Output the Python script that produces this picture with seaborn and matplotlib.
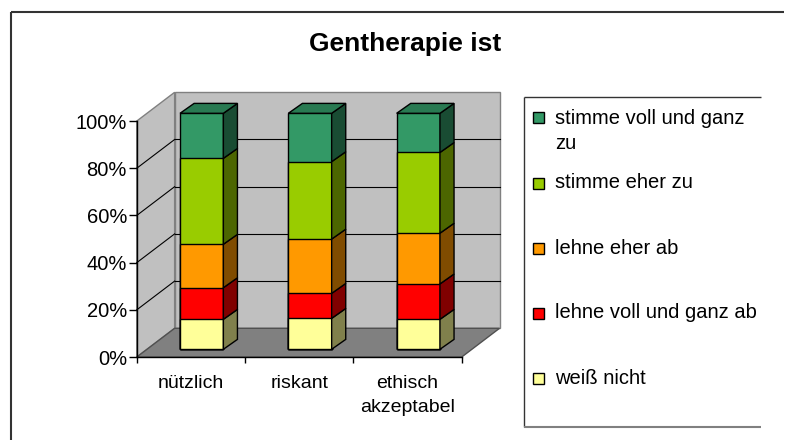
import matplotlib
matplotlib.use("Agg")
import matplotlib.pyplot as plt
import seaborn as sns
from matplotlib.patches import Polygon, Rectangle
from matplotlib.lines import Line2D

# data (percent, bottom -> top)
categories = ["nützlich", "riskant", "ethisch\nakzeptabel"]
series_names = ["weiß nicht", "lehne voll und ganz ab", "lehne eher ab",
                "stimme eher zu", "stimme voll und ganz zu"]
weiss_nicht = [12.7, 13.1, 12.7]
lehne_voll_ab = [13.4, 10.6, 15.0]
lehne_eher_ab = [18.4, 23.0, 21.5]
stimme_eher_zu = [36.4, 32.8, 34.2]
stimme_voll_zu = [19.1, 20.5, 16.6]
y_ticks = [0, 20, 40, 60, 80, 100]

front_colors = ["#FFFF99", "#FF0000", "#FF9900", "#99CC00", "#339966"]
side_colors = ["#80804C", "#800000", "#804C00", "#4C6600", "#194C33"]
top_color = "#297A52"

plt.rcParams['font.family'] = ['Liberation Sans', 'DejaVu Sans']

series = [weiss_nicht, lehne_voll_ab, lehne_eher_ab, stimme_eher_zu, stimme_voll_zu]
cum = []
run = [0.0] * len(categories)
for s in series:
    run = [a + b for a, b in zip(run, s)]
    cum.append(run)

W, H = 785, 441
fig = plt.figure(figsize=(W / 100, H / 100), dpi=100)

# pixel mapping of the bar front plane
PX0, PXU, PY0, PYU = 201.7, 108.3, 349.3, 2.36
ax = fig.add_axes([100 / W, (H - 370) / H, 420 / W, 290 / H])
ax.set_facecolor("none")

# 3d offsets (data units): front axis plane, back wall, bar depth
OFX, OFY = -0.10, -3.3
OBX, OBY = 0.25, 8.9
DBX, DBY = 0.13, 4.2
BW = 0.4

fx0, fx1 = -0.5 + OFX, 2.5 + OFX
bx0, bx1 = -0.5 + OBX, 2.5 + OBX

# walls and floor
ax.add_patch(Polygon([(bx0, OBY), (bx1, OBY), (bx1, 100 + OBY), (bx0, 100 + OBY)],
                     facecolor="#C0C0C0", edgecolor="#808080", lw=1, zorder=0.5))
ax.add_patch(Polygon([(fx0, OFY), (bx0, OBY), (bx0, 100 + OBY), (fx0, 100 + OFY)],
                     facecolor="#C0C0C0", edgecolor="#808080", lw=1, zorder=0.5))
ax.add_patch(Polygon([(fx0, OFY), (fx1, OFY), (bx1, OBY), (bx0, OBY)],
                     facecolor="#808080", edgecolor="#505050", lw=1, zorder=0.55))
for v in y_ticks[1:-1]:
    ax.plot([bx0, bx1], [OBY + v, OBY + v], color="black", lw=0.8, zorder=0.6)
    ax.plot([fx0, bx0], [OFY + v, OBY + v], color="black", lw=0.8, zorder=0.6)

# stacked bars: cumulative totals, tallest first
for i in reversed(range(len(series))):
    sns.barplot(x=categories, y=cum[i], color=front_colors[i], width=BW,
                saturation=1, edgecolor="black", linewidth=1, errorbar=None,
                ax=ax, zorder=1)

# side and top faces
for j in range(len(categories)):
    xr = j + BW / 2
    xl = j - BW / 2
    for i in range(len(series)):
        b = cum[i - 1][j] if i > 0 else 0
        t = cum[i][j]
        ax.add_patch(Polygon([(xr, b), (xr + DBX, b + DBY), (xr + DBX, t + DBY), (xr, t)],
                             facecolor=side_colors[i], edgecolor="black", lw=1, zorder=1.1))
    t = cum[-1][j]
    ax.add_patch(Polygon([(xl, t), (xl + DBX, t + DBY), (xr + DBX, t + DBY), (xr, t)],
                         facecolor=top_color, edgecolor="black", lw=1, zorder=1.1))

ax.set_xlim((100 - PX0) / PXU, (520 - PX0) / PXU)
ax.set_ylim((PY0 - 370) / PYU, (PY0 - 80) / PYU)

for s in ["top", "right"]:
    ax.spines[s].set_visible(False)
ax.spines["left"].set_position(("data", fx0))
ax.spines["left"].set_bounds(OFY, 100 + OFY)
ax.spines["bottom"].set_position(("data", OFY))
ax.spines["bottom"].set_bounds(fx0, fx1)
for s in ["left", "bottom"]:
    ax.spines[s].set_linewidth(1)
    ax.spines[s].set_zorder(2)

ax.set_yticks([v + OFY for v in y_ticks], labels=[f"{v}%" for v in y_ticks])
ax.set_xticks([fx0 + k for k in range(4)], labels=[""] * 4)
ax.set_xticks([j + OFX for j in range(len(categories))], labels=categories, minor=True)
ax.tick_params(axis="y", length=5.5, width=1, pad=1.5, labelsize=14.5)
ax.tick_params(axis="x", which="major", length=4.3, width=1)
ax.tick_params(axis="x", which="minor", length=0, pad=13, labelsize=14)
for lab in ax.get_xticklabels(minor=True):
    lab.set_linespacing(1.5)
ax.set_xlabel("")
ax.set_ylabel("")

# title
fig.text(405 / W, 1 - 44 / H, "Gentherapie ist", ha="center", va="center",
         fontsize=19, fontweight="bold")

# chart border
fig.add_artist(Line2D([11 / W, (W - 1) / W], [1 - 12 / H] * 2, color="#333333",
                      lw=1.5, solid_capstyle="butt"))
fig.add_artist(Line2D([11 / W] * 2, [1 / H, 1 - 12 / H], color="#333333", lw=1.5,
                      solid_capstyle="butt"))

# legend box (right edge lies outside the picture)
lx0, lx1, ly0, ly1 = 524 / W, 0.97, 1 - 97 / H, 1 - 427 / H
fig.add_artist(Line2D([lx0, lx1], [ly0, ly0], color="#333333", lw=1,
                      solid_capstyle="butt"))
fig.add_artist(Line2D([lx0, lx0], [ly0, ly1], color="#333333", lw=1,
                      solid_capstyle="butt"))
fig.add_artist(Line2D([lx0, lx1], [ly1, ly1], color="#808080", lw=1.5,
                      solid_capstyle="butt"))

legend_labels = ["stimme voll und ganz\nzu", "stimme eher zu", "lehne eher ab",
                 "lehne voll und ganz ab", "weiß nicht"]
legend_y = [117, 183, 248.5, 313, 378.5]
for k, (lab, yc) in enumerate(zip(legend_labels, legend_y)):
    col = front_colors[len(series) - 1 - k]
    fig.add_artist(Rectangle((533 / W, 1 - (yc + 5.5) / H), 11 / W, 11 / H,
                             transform=fig.transFigure, facecolor=col,
                             edgecolor="black", lw=1))
    ty = yc + 14 if "\n" in lab else yc
    fig.text(555 / W, 1 - ty / H, lab, ha="left", va="center", fontsize=14.5,
             linespacing=1.45)

fig.savefig("out.png", dpi=100)
